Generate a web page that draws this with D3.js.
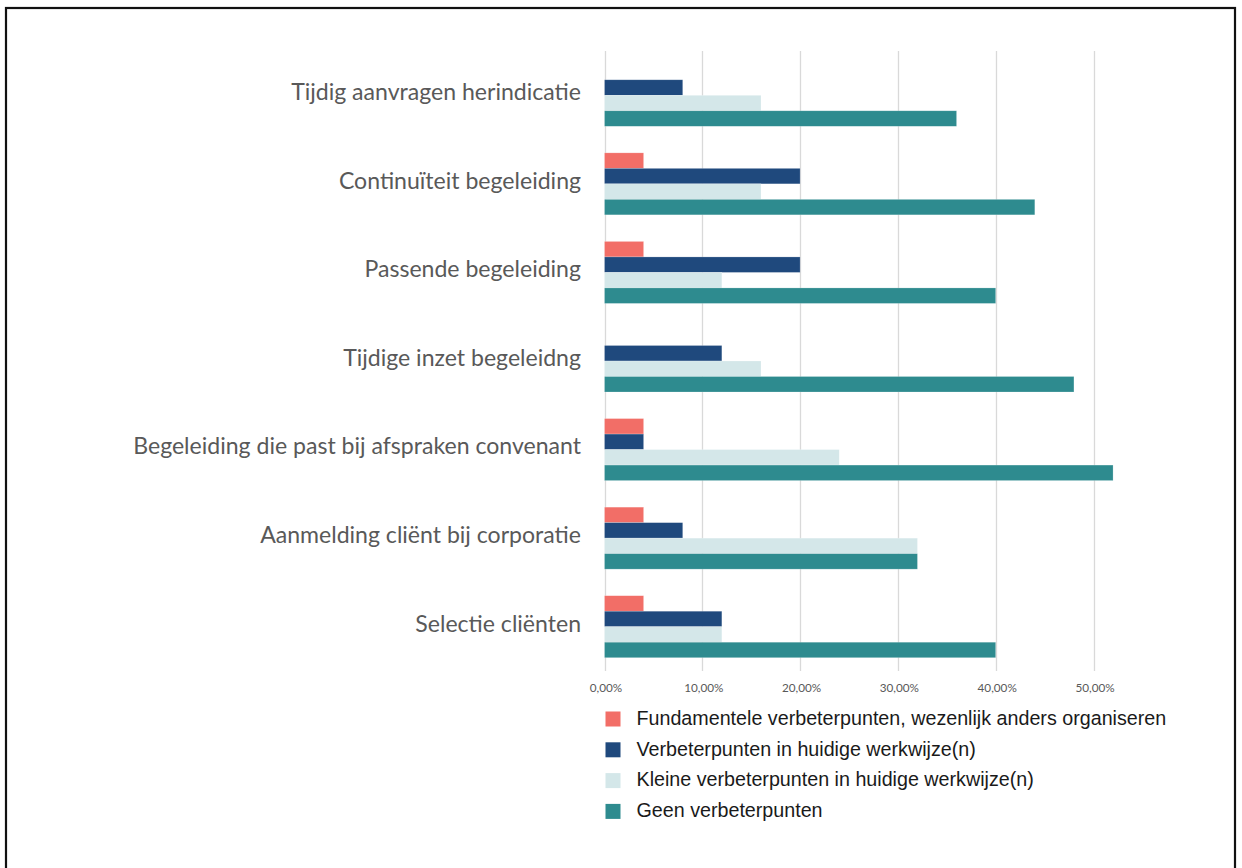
<!DOCTYPE html>
<html>
<head>
<meta charset="utf-8">
<script src="https://cdn.jsdelivr.net/npm/d3@7"></script>
<style>
  html, body { margin: 0; padding: 0; background: #fff; }
  svg { display: block; }
</style>
</head>
<body>
<svg id="chart" width="1242" height="868"></svg>
<script>
// Categories, top to bottom
const categories = [
  "Tijdig aanvragen herindicatie",
  "Continuïteit begeleiding",
  "Passende begeleiding",
  "Tijdige inzet begeleidng",
  "Begeleiding die past bij afspraken convenant",
  "Aanmelding cliënt bij corporatie",
  "Selectie cliënten"
];

// Series names (legend order = bar order within each group)
const seriesNames = [
  "Fundamentele verbeterpunten, wezenlijk anders organiseren",
  "Verbeterpunten in huidige werkwijze(n)",
  "Kleine verbeterpunten in huidige werkwijze(n)",
  "Geen verbeterpunten"
];

// Shares per category (fractions)
const fundamenteel = [0.00, 0.04, 0.04, 0.00, 0.04, 0.04, 0.04];
const verbeterpunten = [0.08, 0.20, 0.20, 0.12, 0.04, 0.08, 0.12];
const kleine = [0.16, 0.16, 0.12, 0.16, 0.24, 0.32, 0.12];
const geen = [0.36, 0.44, 0.40, 0.48, 0.52, 0.32, 0.40];

const tickValues = [0, 0.1, 0.2, 0.3, 0.4, 0.5];

const seriesValues = [fundamenteel, verbeterpunten, kleine, geen];
const colors = ["#F26E67", "#1F497D", "#D4E7E9", "#2E8B8F"];

const svg = d3.select("#chart");

// Outer frame
svg.append("rect")
  .attr("x", 6).attr("y", 8)
  .attr("width", 1229).attr("height", 880)
  .attr("fill", "none")
  .attr("stroke", "#111")
  .attr("stroke-width", 2.2);

const plot = { top: 51, bottom: 671 };

const x = d3.scaleLinear().domain([0, 0.5]).range([604.5, 1093.5]);

const y = d3.scaleBand()
  .domain(categories)
  .range([plot.top, plot.bottom])
  .paddingInner(0.3)
  .paddingOuter(0.15);

const ySub = d3.scaleBand()
  .domain(d3.range(seriesNames.length))
  .range([0, y.bandwidth()]);

// Gridlines
svg.append("g")
  .selectAll("line")
  .data(tickValues)
  .join("line")
  .attr("x1", d => Math.round(x(d)) + 0.5)
  .attr("x2", d => Math.round(x(d)) + 0.5)
  .attr("y1", plot.top)
  .attr("y2", plot.bottom)
  .attr("stroke", "#D9D9D9")
  .attr("stroke-width", 1.3);

// Bars
const rows = categories.map((c, i) => ({
  cat: c,
  vals: seriesValues.map((s, k) => ({ k, v: s[i] }))
}));

const groups = svg.append("g")
  .selectAll("g")
  .data(rows)
  .join("g")
  .attr("transform", d => `translate(0,${y(d.cat)})`);

groups.selectAll("rect")
  .data(d => d.vals.filter(e => e.v > 0))
  .join("rect")
  .attr("x", x(0))
  .attr("y", d => ySub(d.k))
  .attr("width", d => x(d.v) - x(0))
  .attr("height", ySub.bandwidth())
  .attr("fill", d => colors[d.k])
  .attr("stroke", "#fff")
  .attr("stroke-opacity", 0.35)
  .attr("stroke-width", 0.6);

// Category labels
const catLabels = svg.append("g")
  .selectAll("text")
  .data(categories)
  .join("text")
  .attr("x", 581)
  .attr("y", d => y(d) + y.bandwidth() / 2 - 1)
  .attr("text-anchor", "end")
  .attr("dominant-baseline", "middle")
  .attr("fill", "#595959")
  .style("font-family", "Lato, 'Open Sans', sans-serif")
  .style("font-size", "20px")
  .text(d => d);

// Scale label font so the longest label spans 448px
let maxW = 0;
catLabels.each(function () { maxW = Math.max(maxW, this.getComputedTextLength()); });
catLabels.style("font-size", (20 * 448 / maxW) + "px");

// X axis tick labels
const fmt = v => (v * 100).toFixed(2).replace(".", ",") + "%";
const tickLabels = svg.append("g")
  .selectAll("text")
  .data(tickValues)
  .join("text")
  .attr("x", d => x(d) + 1.5)
  .attr("y", 689)
  .attr("text-anchor", "middle")
  .attr("dominant-baseline", "middle")
  .attr("fill", "#595959")
  .style("font-family", "Lato, 'Open Sans', sans-serif")
  .style("font-size", "11px")
  .text(fmt);

const tw = tickLabels.filter((d, i) => i === 0).node().getComputedTextLength();
tickLabels.style("font-size", (11 * 32.5 / tw) + "px");

// Legend
const legend = svg.append("g")
  .selectAll("g")
  .data(seriesNames)
  .join("g")
  .attr("transform", (d, i) => `translate(605.5,${719 + i * 30.8})`);

legend.append("rect")
  .attr("x", 0)
  .attr("y", -7.5)
  .attr("width", 15)
  .attr("height", 15)
  .attr("fill", (d, i) => colors[i]);

const legText = legend.append("text")
  .attr("x", 31)
  .attr("y", 0.5)
  .attr("dominant-baseline", "middle")
  .attr("fill", "#1a1a1a")
  .style("font-family", "'Liberation Sans', Arial, sans-serif")
  .style("font-size", "20px")
  .text(d => d);

const lw = legText.filter((d, i) => i === 0).node().getComputedTextLength();
legText.style("font-size", (20 * 530 / lw) + "px");
</script>
</body>
</html>
